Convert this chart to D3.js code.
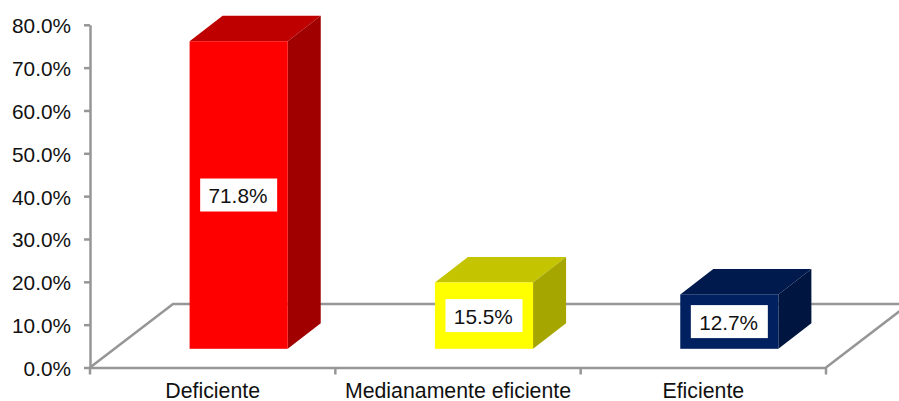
<!DOCTYPE html>
<meta charset="utf-8">
<style>
  html, body { margin: 0; padding: 0; background: #fff; }
  svg { display: block; }
  text { font-family: "Liberation Sans", Arial, sans-serif; fill: #111; }
</style>
<script src="https://d3js.org/d3.v7.min.js"></script>
<div id="chart"></div>
<script>
const categories = ["Deficiente", "Medianamente eficiente", "Eficiente"];
const values = [71.8, 15.5, 12.7];
const valueLabels = ["71.8%", "15.5%", "12.7%"];
const yTicks = [0, 10, 20, 30, 40, 50, 60, 70, 80];
const frontColors = ["#ff0000", "#ffff00", "#00205f"];
const topColors = ["#bf0000", "#c4c400", "#001a4d"];
const sideColors = ["#a00000", "#a6a600", "#001640"];

const W = 899, H = 401;
const floorY = 367.5, topY = 24.8;
const left = 90, right = 826;
// floor depth and bar depth, in px
const floorDx = 83, floorDy = -63.5;
const barDx = 33, barDy = -25.5;
const barShiftX = 26, barShiftY = -18.7;
const font = '"Liberation Sans", Arial, sans-serif';

const svg = d3.select("#chart").append("svg")
  .attr("width", W)
  .attr("height", H);

const x = d3.scaleBand().domain(categories).range([left, right]).paddingInner(0.6).paddingOuter(0.3);
const xStep = d3.scaleBand().domain(categories).range([left, right]);
const y = d3.scaleLinear().domain([0, 80]).range([floorY, topY]);

// floor
const grey = "#969696";
const lineW = 2.5;
const floor = svg.append("g").attr("fill", "none").attr("stroke", grey).attr("stroke-width", lineW);
floor.append("path").attr("d", d3.line()([
  [left, floorY], [left + floorDx, floorY + floorDy], [W, floorY + floorDy]
]));
floor.append("path").attr("d", d3.line()([
  [right, floorY], [right + floorDx, floorY + floorDy]
]));

// y axis
const yAxis = svg.append("g")
  .attr("transform", `translate(${left},0)`)
  .call(d3.axisLeft(y).tickValues(yTicks).tickSize(6).tickSizeOuter(0).tickPadding(13).tickFormat(d => d.toFixed(1) + "%"));
yAxis.selectAll("path, line").attr("stroke", grey).attr("stroke-width", lineW);
yAxis.selectAll("text").attr("font-size", 20.8).attr("dy", "0.38em").style("font-family", font);

// x axis: labels at band centres, ticks on band edges
const xAxis = svg.append("g")
  .attr("transform", `translate(0,${floorY})`)
  .call(d3.axisBottom(xStep).tickSize(0).tickSizeOuter(0).tickPadding(15.4));
xAxis.select("path").attr("stroke", grey).attr("stroke-width", lineW);
xAxis.selectAll("text").attr("font-size", 21.3).style("font-family", font);
xAxis.selectAll("line.edge")
  .data([left].concat(categories.map(c => xStep(c) + xStep.bandwidth())))
  .join("line")
    .attr("class", "edge")
    .attr("x1", d => d).attr("x2", d => d)
    .attr("y1", 0).attr("y2", 7)
    .attr("stroke", grey).attr("stroke-width", lineW);

// bars
const rows = categories.map((c, i) => ({c, v: values[i], i}));
const bar = svg.append("g").selectAll("g").data(rows).join("g")
  .attr("transform", `translate(${barShiftX},${barShiftY})`);
const poly = pts => pts.map(p => p.join(",")).join(" ");

bar.append("polygon")
  .attr("fill", d => topColors[d.i])
  .attr("points", d => {
    const x0 = x(d.c), x1 = x0 + x.bandwidth(), t = y(d.v);
    return poly([[x0, t], [x1, t], [x1 + barDx, t + barDy], [x0 + barDx, t + barDy]]);
  });
bar.append("polygon")
  .attr("fill", d => sideColors[d.i])
  .attr("points", d => {
    const x1 = x(d.c) + x.bandwidth(), t = y(d.v), b = y(0);
    return poly([[x1, t], [x1 + barDx, t + barDy], [x1 + barDx, b + barDy], [x1, b]]);
  });
bar.append("rect")
  .attr("fill", d => frontColors[d.i])
  .attr("x", d => x(d.c))
  .attr("y", d => y(d.v))
  .attr("width", x.bandwidth())
  .attr("height", d => y(0) - y(d.v));

// value labels
bar.append("rect")
  .attr("fill", "#fff")
  .attr("x", d => x(d.c) + x.bandwidth() / 2 - 38.5)
  .attr("y", d => y(d.v / 2) - 16.5)
  .attr("width", 77)
  .attr("height", 33);
bar.append("text")
  .attr("text-anchor", "middle")
  .attr("font-size", 20.8)
  .attr("x", d => x(d.c) + x.bandwidth() / 2 - 0.7)
  .attr("y", d => y(d.v / 2) + 8)
  .text(d => valueLabels[d.i]);
</script>
